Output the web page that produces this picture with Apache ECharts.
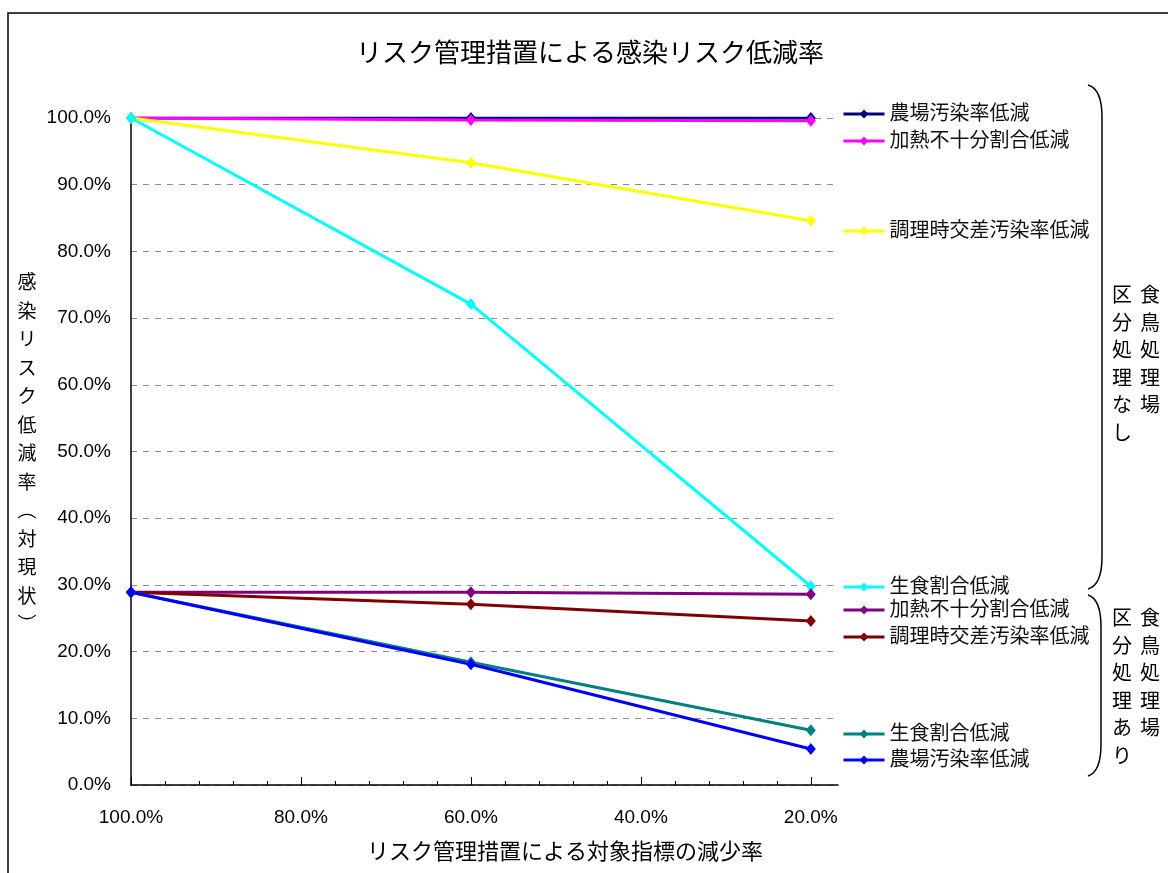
<!DOCTYPE html>
<html lang="ja">
<head>
    <meta charset="UTF-8">
    <title>リスク管理措置による感染リスク低減率</title>
    <script src="https://cdn.jsdelivr.net/npm/echarts@6/dist/echarts.min.js"></script>
</head>
<body style="margin:0;background:#fff;">
<div id="riskChart" style="width:1168px;height:873px;"></div>
<script type="text/javascript">
    // 対象指標の減少率 (x)
    var xPct = [100, 60, 20];
    // 食鳥処理場区分処理なし
    var farmNone = [100, 100, 100];
    var heatNone = [100, 99.7, 99.6];
    var crossNone = [100, 93.3, 84.6];
    var rawNone = [100, 72.1, 29.8];
    // 食鳥処理場区分処理あり
    var heatSep = [28.9, 28.9, 28.6];
    var crossSep = [28.9, 27.1, 24.6];
    var rawSep = [28.9, 18.4, 8.2];
    var farmSep = [28.9, 18.1, 5.4];

    var xMajorTicks = [100, 80, 60, 40, 20];
    var xMinorTicks = [96, 92, 88, 84, 76, 72, 68, 64, 56, 52, 48, 44, 36, 32, 28, 24];

    var seriesNames = ['なし:農場汚染率低減', 'なし:加熱不十分割合低減', 'なし:調理時交差汚染率低減', 'なし:生食割合低減',
        'あり:加熱不十分割合低減', 'あり:調理時交差汚染率低減', 'あり:生食割合低減', 'あり:農場汚染率低減'];
    var seriesValues = [farmNone, heatNone, crossNone, rawNone, heatSep, crossSep, rawSep, farmSep];
    var colors = ['#000080', '#ff00ff', '#ffff00', '#00ffff', '#800080', '#800000', '#008080', '#0000ff'];
    // 凡例の縦位置（線の端に合わせる）
    var legendY = [114, 141, 231, 587, 610, 637, 734, 760];

    var font = '"Liberation Sans", "Noto Sans CJK JP", sans-serif';
    var myChart = echarts.init(document.getElementById('riskChart'));

    var series = seriesNames.map(function (name, i) {
        return {
            name: name,
            type: 'line',
            data: xPct.map(function (x, j) { return [x, seriesValues[i][j]]; }),
            symbol: 'diamond',
            symbolSize: [10, 12],
            lineStyle: {width: 3},
            itemStyle: {color: colors[i]},
            emphasis: {disabled: true}
        };
    });

    var legends = seriesNames.map(function (name, i) {
        return {
            left: 842,
            top: legendY[i] - 10,
            padding: 0,
            itemWidth: 41,
            itemHeight: 11,
            selectedMode: false,
            data: [name],
            lineStyle: {width: 3},
            formatter: function (n) { return n.split(':')[1]; },
            textStyle: {fontSize: 20, color: '#111', fontFamily: font}
        };
    });

    // 右側の括弧 (上下の曲線と縦線)
    function brace(top, bottom, x) {
        var lineStyle = {fill: 'none', stroke: '#000', lineWidth: 1.5};
        return [
            {type: 'bezierCurve', shape: {x1: 1088, y1: top, x2: x, y2: top + 32, cpx1: x, cpy1: top + 4}, style: lineStyle},
            {type: 'line', shape: {x1: x, y1: top + 32, x2: x, y2: bottom - 32}, style: lineStyle},
            {type: 'bezierCurve', shape: {x1: x, y1: bottom - 32, x2: 1088, y2: bottom, cpx1: x, cpy1: bottom - 4}, style: lineStyle}
        ];
    }

    function vtext(str, x, y, size, lh) {
        return {type: 'text', x: x, y: y, style: {text: str.split('').join('\n'),
            font: size + 'px "Noto Sans CJK JP"', lineHeight: lh, fill: '#000', textAlign: 'center'}};
    }

    var option = {
        animation: false,
        color: colors,
        textStyle: {fontFamily: font},
        legend: legends,
        grid: {left: 131, right: 330, top: 118, bottom: 88, containLabel: false},
        xAxis: [
            {
                type: 'value',
                inverse: true,
                min: 16.8,
                max: 100,
                axisLine: {lineStyle: {color: '#000', width: 1.5}},
                axisTick: {inside: true, length: 8, customValues: xMajorTicks, lineStyle: {color: '#000'}},
                axisLabel: {
                    customValues: xMajorTicks,
                    margin: 23,
                    fontSize: 19,
                    color: '#000',
                    formatter: function (v) { return v.toFixed(1) + '%'; }
                },
                splitLine: {show: false}
            },
            {
                type: 'value',
                inverse: true,
                position: 'bottom',
                min: 16.8,
                max: 100,
                axisLine: {show: false},
                axisTick: {inside: true, length: 4, customValues: xMinorTicks, lineStyle: {color: '#000'}},
                axisLabel: {show: false},
                splitLine: {show: false}
            }
        ],
        yAxis: {
            type: 'value',
            min: 0,
            max: 100,
            interval: 10,
            axisLine: {show: true, lineStyle: {color: '#000', width: 1.5}},
            axisTick: {show: false},
            axisLabel: {
                margin: 20,
                fontSize: 19,
                color: '#000',
                formatter: function (v) { return v.toFixed(1) + '%'; }
            },
            splitLine: {lineStyle: {color: '#8c8c8c', type: [6, 6], width: 1}}
        },
        graphic: [
            // 外枠
            {type: 'rect', shape: {x: 8, y: 13, width: 1200, height: 900},
                style: {fill: 'none', stroke: '#000', lineWidth: 1.5}, silent: true},
            {type: 'text', x: 590, y: 52, style: {text: 'リスク管理措置による感染リスク低減率',
                font: '26px "Noto Sans CJK JP"', fill: '#000', textAlign: 'center', textVerticalAlign: 'middle'}},
            {type: 'text', x: 565, y: 851, style: {text: 'リスク管理措置による対象指標の減少率',
                font: '22px "Noto Sans CJK JP"', fill: '#000', textAlign: 'center', textVerticalAlign: 'middle'}},
            // 縦軸タイトル（縦書き）
            vtext('感染リスク低減率︵対現状︶', 27, 268, 19, 28.5),
            vtext('食鳥処理場', 1150, 281, 20, 27.5),
            vtext('区分処理なし', 1122, 281, 20, 27.5),
            vtext('食鳥処理場', 1150, 604, 20, 27.5),
            vtext('区分処理あり', 1122, 604, 20, 27.5)
        ].concat(brace(85, 589, 1102), brace(595, 776, 1101)),
        series: series
    };
    myChart.setOption(option);
</script>
</body>
</html>
